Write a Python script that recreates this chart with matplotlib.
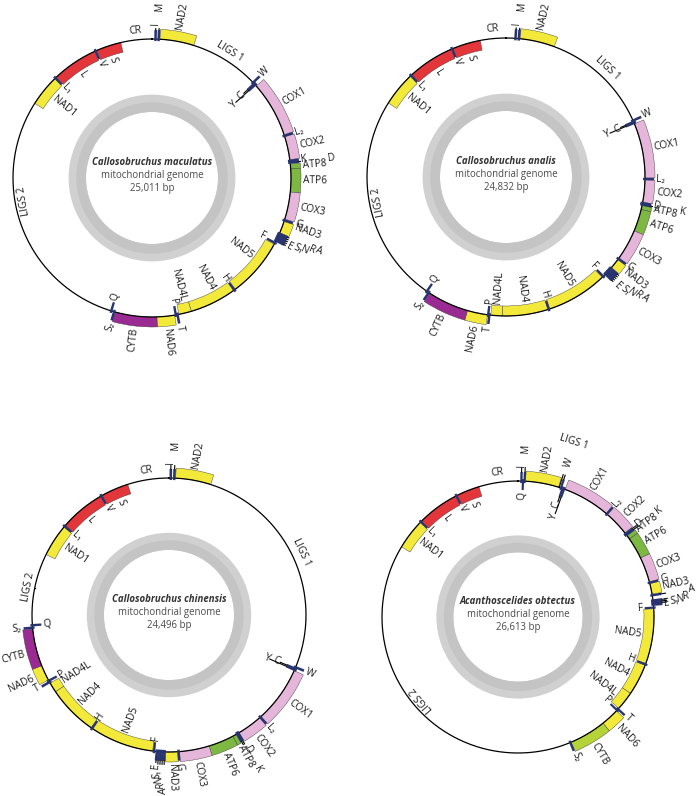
import numpy as np
import matplotlib.pyplot as plt

plt.rcParams['font.family'] = ['Open Sans', 'DejaVu Sans']

# ---- C. maculatus ----
mac_size = 25011
mac_genes = [("NAD2", 230, 1215, 1), ("COX1", 3375, 4990, 1), ("COX2", 5055, 5725, 1),
             ("ATP8", 5850, 5995, 1), ("ATP6", 5995, 6655, 1), ("COX3", 6655, 7445, 1),
             ("NAD3", 7520, 7865, 1), ("NAD5", 8230, 9945, -1), ("NAD4", 10010, 11365, -1),
             ("NAD4L", 11365, 11730, -1), ("NAD6", 11855, 12365, 1), ("CYTB", 12365, 13575, 1),
             ("NAD1", 21015, 21925, -1), ("L", 21990, 23310, -1), ("S", 23380, 24110, -1)]
mac_trnas = [("I", 100, 1), ("M", 190, 1), ("W", 3240, 1), ("C", 3285, -1), ("Y", 3330, -1),
             ("L₂", 5025, 1), ("K", 5760, 1), ("D", 5810, 1), ("G", 7485, 1), ("A", 7895, 1),
             ("R", 7950, 1), ("N", 8005, 1), ("S₁", 8060, 1), ("E", 8115, 1), ("F", 8185, -1),
             ("H", 9980, -1), ("T", 11770, 1), ("P", 11820, -1), ("S₂", 13605, 1), ("Q", 13690, -1),
             ("L₁", 21955, -1), ("V", 23345, -1)]
mac_regions = [("CR", 24110, 25011), ("LIGS 1", 1215, 3205), ("LIGS 2", 13725, 21015)]

# ---- C. analis ----
ana_size = 24832
ana_genes = [("NAD2", 400, 1400, 1), ("COX1", 4655, 6235, 1), ("COX2", 6290, 6925, 1),
             ("ATP8", 7020, 7140, 1), ("ATP6", 7140, 7780, 1), ("COX3", 7780, 8665, 1),
             ("NAD3", 8720, 9010, 1), ("NAD5", 9395, 11150, -1), ("NAD4", 11205, 12525, -1),
             ("NAD4L", 12525, 12850, -1), ("NAD6", 12945, 13525, 1), ("CYTB", 13525, 14710, 1),
             ("NAD1", 20840, 21830, -1), ("L", 21895, 23225, -1), ("S", 23280, 24095, -1)]
ana_trnas = [("I", 270, 1), ("M", 365, 1), ("W", 4555, 1), ("C", 4595, -1), ("Y", 4630, -1),
             ("L₂", 6265, 1), ("D", 6955, 1), ("K", 6995, 1), ("G", 8695, 1), ("A", 9045, 1),
             ("R", 9100, 1), ("N", 9155, 1), ("S₁", 9210, 1), ("E", 9265, 1), ("F", 9355, -1),
             ("H", 11180, -1), ("T", 12890, 1), ("P", 12925, -1), ("S₂", 14745, 1), ("Q", 14810, -1),
             ("L₁", 21860, -1), ("V", 23255, -1)]
ana_regions = [("CR", 24095, 24832), ("LIGS 1", 1400, 4520), ("LIGS 2", 14845, 20840)]

# ---- C. chinensis ----
chi_size = 24496
chi_genes = [("NAD2", 190, 1205, 1), ("COX1", 7755, 9375, 1), ("COX2", 9430, 10150, 1),
             ("ATP8", 10245, 10360, 1), ("ATP6", 10360, 11090, 1), ("COX3", 11090, 11950, 1),
             ("NAD3", 12000, 12340, 1), ("NAD5", 12715, 14545, -1), ("NAD4", 14600, 16055, -1),
             ("NAD4L", 16055, 16345, -1), ("NAD6", 16445, 16895, 1), ("CYTB", 16895, 17975, 1),
             ("NAD1", 20155, 21090, -1), ("L", 21145, 22455, -1), ("S", 22505, 23305, -1)]
chi_trnas = [("I", 50, 1), ("M", 150, 1), ("W", 7650, 1), ("C", 7690, -1), ("Y", 7730, -1),
             ("L₂", 9405, 1), ("D", 10180, 1), ("K", 10220, 1), ("G", 11975, 1), ("A", 12375, 1),
             ("R", 12430, 1), ("N", 12485, 1), ("S₁", 12540, 1), ("E", 12595, 1), ("F", 12675, -1),
             ("H", 14575, -1), ("T", 16375, 1), ("P", 16420, -1), ("S₂", 18010, 1), ("Q", 18080, -1),
             ("L₁", 21120, -1), ("V", 22480, -1)]
chi_regions = [("CR", 23305, 24496), ("LIGS 1", 1205, 7615), ("LIGS 2", 18115, 20155)]

# ---- A. obtectus ----
obt_size = 26613
obt_genes = [("NAD2", 235, 1280, 1), ("COX1", 1500, 2985, 1), ("COX2", 3045, 3830, 1),
             ("ATP8", 3940, 4065, 1), ("ATP6", 4065, 4755, 1), ("COX3", 4755, 5545, 1),
             ("NAD3", 5605, 5935, 1), ("NAD5", 6395, 8130, -1), ("NAD4", 8190, 9180, -1),
             ("NAD4L", 9180, 9775, -1), ("NAD6", 9875, 10445, 1), ("CYTB", 10445, 11605, 1),
             ("NAD1", 22255, 23215, -1), ("L", 23275, 24590, -1), ("S", 24650, 25380, -1)]
obt_trnas = [("I", 105, 1), ("Q", 155, -1), ("M", 205, 1), ("W", 1360, 1), ("C", 1410, -1),
             ("Y", 1465, -1), ("L₂", 3015, 1), ("D", 3865, 1), ("K", 3910, 1), ("G", 5575, 1),
             ("A", 5975, 1), ("R", 6135, 1), ("N", 6180, 1), ("S₁", 6225, 1), ("E", 6270, 1),
             ("F", 6360, -1), ("H", 8160, -1), ("T", 9805, 1), ("P", 9850, -1), ("S₂", 11635, 1),
             ("L₁", 23245, -1), ("V", 24620, -1)]
obt_regions = [("CR", 25380, 26613), ("LIGS 1", 1280, 1325), ("LIGS 2", 11670, 22255)]

W, H = 700, 796
fig = plt.figure(figsize=(W / 100, H / 100), dpi=100)

YELLOW, PINK, GREEN, PURPLE, RED, NAVY = '#f3e93b', '#e6b5da', '#7db843', '#9a2b92', '#e2363a', '#27346f'
BAND = 10
TXT = dict(fontsize=7.3, color='#1a1a1a', clip_on=False)


def gene_color(name, cytb):
    if name.startswith('NAD'):
        return YELLOW
    if name.startswith('COX'):
        return PINK
    if name.startswith('ATP'):
        return GREEN
    if name == 'CYTB':
        return cytb
    return RED


def radial(ax, th, r, s, strand):
    a = (90 - np.degrees(th) + 180) % 360 - 180
    flip = abs(a) > 90
    rot = a - 180 if a > 90 else (a + 180 if flip else a)
    ha = 'left' if (strand > 0) != flip else 'right'
    ax.text(th, r, s, rotation=rot, rotation_mode='anchor', ha=ha, va='center', **TXT)


def draw_map(cx, cy, R, size, genes, trnas, regions, title, cytb=PURPLE,
             offsets={}, shifts={}, sides={}):
    ax = fig.add_axes([(cx - 150) / W, (H - cy - 150) / H, 300 / W, 300 / H], projection='polar')
    ax.set_theta_zero_location('N')
    ax.set_theta_direction(-1)
    ax.set_ylim(0, 150)
    ax.axis('off')
    rad = lambda bp: 2 * np.pi * bp / size

    # grey content ring: lighter outer fringe over a darker inner band
    ax.bar(0, 0.125 * R, width=2 * np.pi, bottom=0.475 * R, color='#d0d0d0', linewidth=0)
    ax.bar(0, 0.07 * R, width=2 * np.pi, bottom=0.475 * R, color='#c4c4c4', linewidth=0)

    for name, s, e, strand in genes:
        bottom = R if strand > 0 else R - BAND
        ax.bar(rad(s), BAND, width=rad(e - s), bottom=bottom, align='edge',
               color=gene_color(name, cytb), edgecolor='#3c3c3c', linewidth=0.3, zorder=2)
        th = rad((s + e) / 2) + np.radians(shifts.get(name, 0))
        radial(ax, th, R + BAND + 2 if strand > 0 else R - BAND - 2, name, strand)

    t = np.linspace(0, 2 * np.pi, 720)
    ax.plot(t, np.full_like(t, R), color='black', lw=0.9, zorder=3)

    for name, pos, strand in trnas:
        bottom = R - 2 if strand > 0 else R - BAND + 1
        ax.bar(rad(pos), BAND + 1, width=rad(70), bottom=bottom, color=NAVY,
               linewidth=0, zorder=4)
        th = rad(pos)
        if name in offsets:
            r_lab = R + offsets[name]
            r0 = R + BAND - 1 if strand > 0 else R - BAND + 1
            ax.plot([th, th], [r0, r_lab - np.sign(offsets[name])], color='black', lw=0.8, zorder=4)
            radial(ax, th, r_lab, name, np.sign(offsets[name]))
        else:
            radial(ax, th, R + 11 if strand > 0 else R - 11, name, strand)

    for name, s, e in regions:
        th = rad((s + e) / 2) + np.radians(shifts.get(name, 0))
        rot = (-np.degrees(th) + 180) % 360 - 180
        side = sides.get(name, 1)
        if name in offsets:
            ax.plot([th, th], [R, R + offsets[name] - 2], color='black', lw=0.8)
            r_lab = R + offsets[name]
        else:
            r_lab = R + 4 * side
        ax.text(th, r_lab, name, rotation=rot, rotation_mode='anchor', ha='center',
                va='bottom' if side > 0 else 'top', **TXT)

    sp, bp = title
    ax.annotate(sp, xy=(0, 0), xytext=(0, 11.5), textcoords='offset points', ha='center',
                va='center', fontsize=6.9, fontweight='bold', fontstyle='italic', color='#333333')
    ax.annotate('mitochondrial genome', xy=(0, 0), xytext=(0, 2), textcoords='offset points',
                ha='center', va='center', fontsize=6.9, color='#4a4a4a')
    ax.annotate(bp, xy=(0, 0), xytext=(0, -7.5), textcoords='offset points', ha='center',
                va='center', fontsize=6.9, color='#4a4a4a')


draw_map(152, 178, 139, mac_size, mac_genes, mac_trnas, mac_regions,
         ('Callosobruchus maculatus', '25,011 bp'),
         offsets={'I': 14, 'M': 28, 'C': -15, 'Y': -27, 'D': 38, 'A': 40, 'R': 33, 'N': 26,
                  'S₁': 19, 'E': 12},
         shifts={'LIGS 2': 10, 'NAD3': -1.5, 'NAD5': -2.5, 'NAD4': -2},
         sides={'LIGS 2': -1})
draw_map(506, 177, 139, ana_size, ana_genes, ana_trnas, ana_regions,
         ('Callosobruchus analis', '24,832 bp'),
         offsets={'I': 14, 'M': 28, 'C': -15, 'Y': -27, 'K': 38, 'A': 42, 'R': 35, 'N': 28,
                  'S₁': 21, 'E': 14},
         sides={'LIGS 2': -1})
draw_map(169, 615, 137, chi_size, chi_genes, chi_trnas, chi_regions,
         ('Callosobruchus chinensis', '24,496 bp'),
         offsets={'I': 14, 'M': 28, 'C': -17, 'Y': -28, 'D': 16, 'K': 38, 'A': 36, 'R': 30,
                  'N': 24, 'S₁': 18, 'E': 12, 'LIGS 2': 1},
         shifts={'CYTB': -1.5})
draw_map(518, 617, 136, obt_size, obt_genes, obt_trnas, obt_regions,
         ('Acanthoscelides obtectus', '26,613 bp'), cytb='#b5d336',
         offsets={'I': 14, 'M': 28, 'W': 22, 'C': -15, 'Y': -27, 'K': 38, 'D': 14, 'A': 37,
                  'R': 30, 'N': 24, 'S₁': 17, 'E': 10, 'LIGS 1': 42},
         sides={'LIGS 2': -1})

fig.savefig('out.png', dpi=100)
